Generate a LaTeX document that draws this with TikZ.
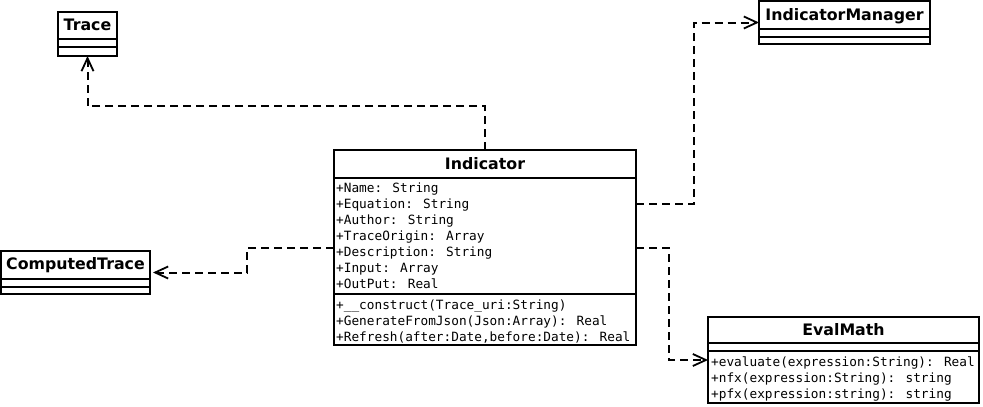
\documentclass[tikz,border=0pt]{standalone}
\usepackage{fontspec}
\setmainfont{DejaVu Sans}
\newfontfamily\umlmono{DejaVu Sans Mono}
\usetikzlibrary{arrows.meta}
\tikzset{
  umlbox/.style={draw, line width=2pt, outer sep=0pt, inner sep=0pt, fill=white},
  umltitle/.style={anchor=base, inner sep=0pt, font=\fontsize{15.8}{18}\selectfont\bfseries},
  umlattr/.style={anchor=base west, inner sep=0pt, font=\fontsize{12.75}{15}\selectfont\umlmono},
  umlsep/.style={line width=2pt},
  dep/.style={line width=2pt, dash pattern=on 8pt off 5pt, -{Straight Barb[length=13pt,width=12pt,line width=1.8pt]}}
}
\begin{document}
\begin{tikzpicture}[x=1pt,y=-1pt]
\useasboundingbox[fill=white] (0,0) rectangle (983,407);
% Trace
\node[umlbox, minimum width=59pt, minimum height=44pt] (trace) at (87.5,34) {};
\draw[umlsep] ([yshift=-27pt]trace.north west) -- ([yshift=-27pt]trace.north east);
\draw[umlsep] ([yshift=-35pt]trace.north west) -- ([yshift=-35pt]trace.north east);
\node[umltitle] (ttrace) at (87.5,30.7) {Trace};
% IndicatorManager
\node[umlbox, minimum width=171pt, minimum height=43pt] (im) at (844.5,22.5) {};
\draw[umlsep] ([yshift=-28pt]im.north west) -- ([yshift=-28pt]im.north east);
\draw[umlsep] ([yshift=-36pt]im.north west) -- ([yshift=-36pt]im.north east);
\node[umltitle] (tim) at (844.5,20.7) {IndicatorManager};
% ComputedTrace
\node[umlbox, minimum width=149pt, minimum height=43pt] (ct) at (75.5,272.5) {};
\draw[umlsep] ([yshift=-28pt]ct.north west) -- ([yshift=-28pt]ct.north east);
\draw[umlsep] ([yshift=-36pt]ct.north west) -- ([yshift=-36pt]ct.north east);
\node[umltitle] (tct) at (75.5,269.3) {ComputedTrace};
% Indicator
\node[umlbox, minimum width=302pt, minimum height=195pt] (ind) at (485,247.5) {};
\draw[umlsep] ([yshift=-28pt]ind.north west) -- ([yshift=-28pt]ind.north east);
\draw[umlsep] ([yshift=-144pt]ind.north west) -- ([yshift=-144pt]ind.north east);
\node[umltitle] (tind) at (485,169) {Indicator};
\node[umlattr] (ia1) at (336,192.5) {+Name: String};
\node[umlattr] (ia2) at (336,208.5) {+Equation: String};
\node[umlattr] (ia3) at (336,224.5) {+Author: String};
\node[umlattr] (ia4) at (336,240.5) {+TraceOrigin: Array};
\node[umlattr] (ia5) at (336,256.5) {+Description: String};
\node[umlattr] (ia6) at (336,272.5) {+Input: Array};
\node[umlattr] (ia7) at (336,288.5) {+OutPut: Real};
\node[umlattr] (im1) at (336,309.3) {+\_\_construct(Trace\_uri:String)};
\node[umlattr] (im2) at (336,325.3) {+GenerateFromJson(Json:Array): Real};
\node[umlattr] (im3) at (336,341.3) {+Refresh(after:Date,before:Date): Real};
% EvalMath
\node[umlbox, minimum width=271pt, minimum height=86pt] (em) at (843.5,360) {};
\draw[umlsep] ([yshift=-26pt]em.north west) -- ([yshift=-26pt]em.north east);
\draw[umlsep] ([yshift=-34pt]em.north west) -- ([yshift=-34pt]em.north east);
\node[umltitle] (tem) at (843.5,335.7) {EvalMath};
\node[umlattr] (em1) at (711,366) {+evaluate(expression:String): Real};
\node[umlattr] (em2) at (711,382.3) {+nfx(expression:String): string};
\node[umlattr] (em3) at (711,398.6) {+pfx(expression:string): string};
% Dependencies
\draw[dep] (ind.north) -- ++(0,-44) -| (trace.south);
\draw[dep] (ind.north east) ++(0,54) -- ++(58,0) |- (im.west);
\draw[dep] (ind.north east) ++(0,98) -- ++(33,0) |- (em.west);
\draw[dep] (ind.north west) ++(0,98) -- ++(-87,0) |- ([xshift=3pt]ct.east);
\end{tikzpicture}
\end{document}
